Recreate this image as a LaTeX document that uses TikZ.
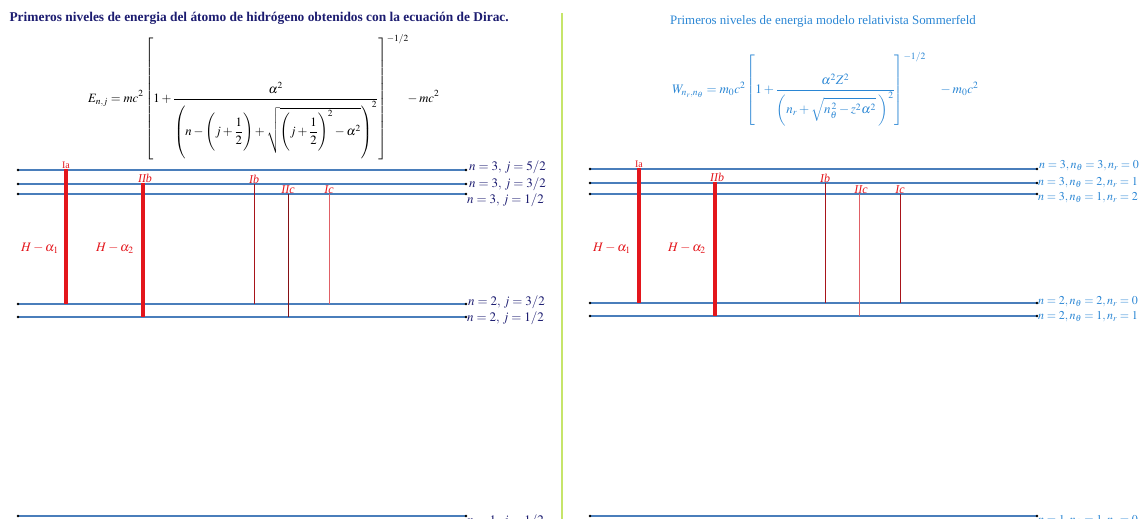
\documentclass[tikz,border=0pt]{standalone}
\usepackage[no-math]{fontspec}
\usepackage{mathptmx}
\setmainfont{Liberation Serif}
\usepackage{amsmath}
\usepackage{xcolor}
\usetikzlibrary{arrows.meta, positioning, calc}

\definecolor{lvlblue}{HTML}{4A7EBB}
\definecolor{navy}{HTML}{1C1C70}
\definecolor{skyblue}{HTML}{2A86D4}
\definecolor{linered}{HTML}{E3161C}
\definecolor{deepred}{HTML}{A8141A}
\definecolor{softred}{HTML}{E06066}
\definecolor{divgreen}{HTML}{C6E56A}

\newcommand{\fstrut}[1]{\vcenter{\hbox{\rule{0pt}{#1}}}}

\begin{document}
\begin{tikzpicture}[x=1pt, y=-1pt,
  level/.style={draw=lvlblue, line width=2.4pt},
  lblL/.style={text=navy, font=\fontsize{13}{14}\selectfont, inner sep=1pt, anchor=west},
  lblR/.style={text=skyblue, font=\fontsize{12}{13}\selectfont, inner sep=1pt, anchor=west},
  trans/.style={text=linered, font=\fontsize{12}{13}\selectfont\itshape, inner sep=0.5pt, anchor=south},
  transup/.style={trans, font=\fontsize{10}{11}\selectfont},
  strong/.style={draw=linered, line width=3.6pt},
  weak/.style={line width=0.8pt},
  halpha/.style={text=linered, font=\fontsize{13}{14}\selectfont},
]
\useasboundingbox (0,0) rectangle (1148,519);

% ===== divider =====
\coordinate (div-t) at (562,13);
\coordinate (div-b) at (562,519);
\draw[divgreen, line width=1.3pt] (div-t) -- (div-b);

% ===== titles =====
\node[anchor=west, text=navy, font=\fontsize{13.4}{15}\selectfont\bfseries] (titleL) at (6,18)
  {Primeros niveles de energia del átomo de hidrógeno obtenidos con la ecuación de Dirac.};
\node[text=skyblue, font=\fontsize{12.9}{14}\selectfont] (titleR) at (823,21)
  {Primeros niveles de energia modelo relativista Sommerfeld};

% ===== formulas =====
\node[anchor=west, font=\fontsize{12.7}{15}\selectfont, inner sep=0pt] (dirac) at (88,98)
  {$\displaystyle E_{n,j} = mc^2\left[\fstrut{114pt}1+\frac{\alpha^2}{\left(\fstrut{58pt}n-\left(\fstrut{40pt}j+\dfrac{1}{2}\right)+\sqrt{\left(\fstrut{40pt}j+\dfrac{1}{2}\right)^2-\alpha^2}\right)^2}\right]^{-1/2}\!\!-mc^2$};
\node[anchor=west, text=skyblue, font=\fontsize{13}{15}\selectfont, inner sep=0pt] (sommer) at (672,89)
  {$\displaystyle W_{n_r,n_\theta} = m_0c^2\left[\fstrut{70pt}1+\frac{\alpha^2Z^2}{\left(\fstrut{30pt}n_r+\sqrt{n_\theta^{\,2}-z^2\alpha^2}\;\right)^2}\right]^{-1/2}\quad -m_0c^2$};

% ===== energy levels (Dirac, left) =====
\foreach \nm/\yy in {3a/170, 3b/184, 3c/194, 2a/304, 2b/317, 1a/516}{
  \coordinate (L\nm-s) at (18,\yy);
  \coordinate (L\nm-e) at (466,\yy);
  \draw[level] (L\nm-s) -- (L\nm-e);
  \fill (L\nm-s) circle (1.4pt) (L\nm-e) circle (1.4pt);
}
\node[lblL, right=2pt of L3a-e, yshift=3pt] (tL3a) {$n=3,\, j=5/2$};
\node[lblL, right=2pt of L3b-e] (tL3b) {$n=3,\, j=3/2$};
\node[lblL, right=0pt of L3c-e, yshift=-6pt] (tL3c) {$n=3,\, j=1/2$};
\node[lblL, right=1pt of L2a-e, yshift=2pt] (tL2a) {$n=2,\, j=3/2$};
\node[lblL, right=0pt of L2b-e, yshift=-1pt] (tL2b) {$n=2,\, j=1/2$};
\node[lblL, right=0pt of L1a-e, yshift=-5pt] (tL1a) {$n=1,\, j=1/2$};

% ===== energy levels (Sommerfeld, right) =====
\foreach \nm/\yy in {3a/169, 3b/183, 3c/194, 2a/303, 2b/316, 1a/516}{
  \coordinate (R\nm-s) at (590,\yy);
  \coordinate (R\nm-e) at (1037,\yy);
  \draw[level] (R\nm-s) -- (R\nm-e);
  \fill (R\nm-s) circle (1.4pt) (R\nm-e) circle (1.4pt);
}
\node[lblR, right=1pt of R3a-e, yshift=3pt] (tR3a) {$n=3, n_\theta=3, n_r=0$};
\node[lblR, right=0pt of R3b-e] (tR3b) {$n=3, n_\theta=2, n_r=1$};
\node[lblR, right=0pt of R3c-e, yshift=-4pt] (tR3c) {$n=3, n_\theta=1, n_r=2$};
\node[lblR, right=0pt of R2a-e, yshift=1pt] (tR2a) {$n=2, n_\theta=2, n_r=0$};
\node[lblR, right=0pt of R2b-e, yshift=-1pt] (tR2b) {$n=2, n_\theta=1, n_r=1$};
\node[lblR, right=0pt of R1a-e, yshift=-5pt] (tR1a) {$n=1, n_\theta=1, n_r=0$};

% ===== transitions (left) =====
\node[transup] (Ia-L) at (66,169) {Ia};
\node[trans] (IIb-L) at (145,183) {IIb};
\node[trans] (Ib-L) at (254,184) {Ib};
\node[trans] (IIc-L) at (288,194) {IIc};
\node[trans] (Ic-L) at (329,194) {Ic};
\draw[strong] (Ia-L.south) -- (Ia-L.south |- L2a-s);
\draw[strong] ([xshift=-2pt]IIb-L.south) -- ([xshift=-2pt]IIb-L.south |- L2b-s);
\draw[weak, deepred] (Ib-L.south) -- (Ib-L.south |- L2a-s);
\draw[weak, deepred!80!black] (IIc-L.south) -- (IIc-L.south |- L2b-s);
\draw[weak, softred] (Ic-L.south) -- (Ic-L.south |- L2a-s);
\node[halpha] (ha1-L) at (40,248) {$H-\alpha_1$};
\node[halpha] (ha2-L) at (115,248) {$H-\alpha_2$};

% ===== transitions (right) =====
\node[transup] (Ia-R) at (639,168) {Ia};
\node[trans] (IIb-R) at (717,182) {IIb};
\node[trans] (Ib-R) at (825,183) {Ib};
\node[trans] (IIc-R) at (861,194) {IIc};
\node[trans] (Ic-R) at (900,194) {Ic};
\draw[strong] (Ia-R.south) -- (Ia-R.south |- R2a-s);
\draw[strong] ([xshift=-2pt]IIb-R.south) -- ([xshift=-2pt]IIb-R.south |- R2b-s);
\draw[weak, deepred] (Ib-R.south) -- (Ib-R.south |- R2a-s);
\draw[weak, softred] ([xshift=-2pt]IIc-R.south) -- ([xshift=-2pt]IIc-R.south |- R2b-s);
\draw[weak, deepred] (Ic-R.south) -- (Ic-R.south |- R2a-s);
\node[halpha] (ha1-R) at (612,248) {$H-\alpha_1$};
\node[halpha] (ha2-R) at (687,248) {$H-\alpha_2$};

\end{tikzpicture}
\end{document}
